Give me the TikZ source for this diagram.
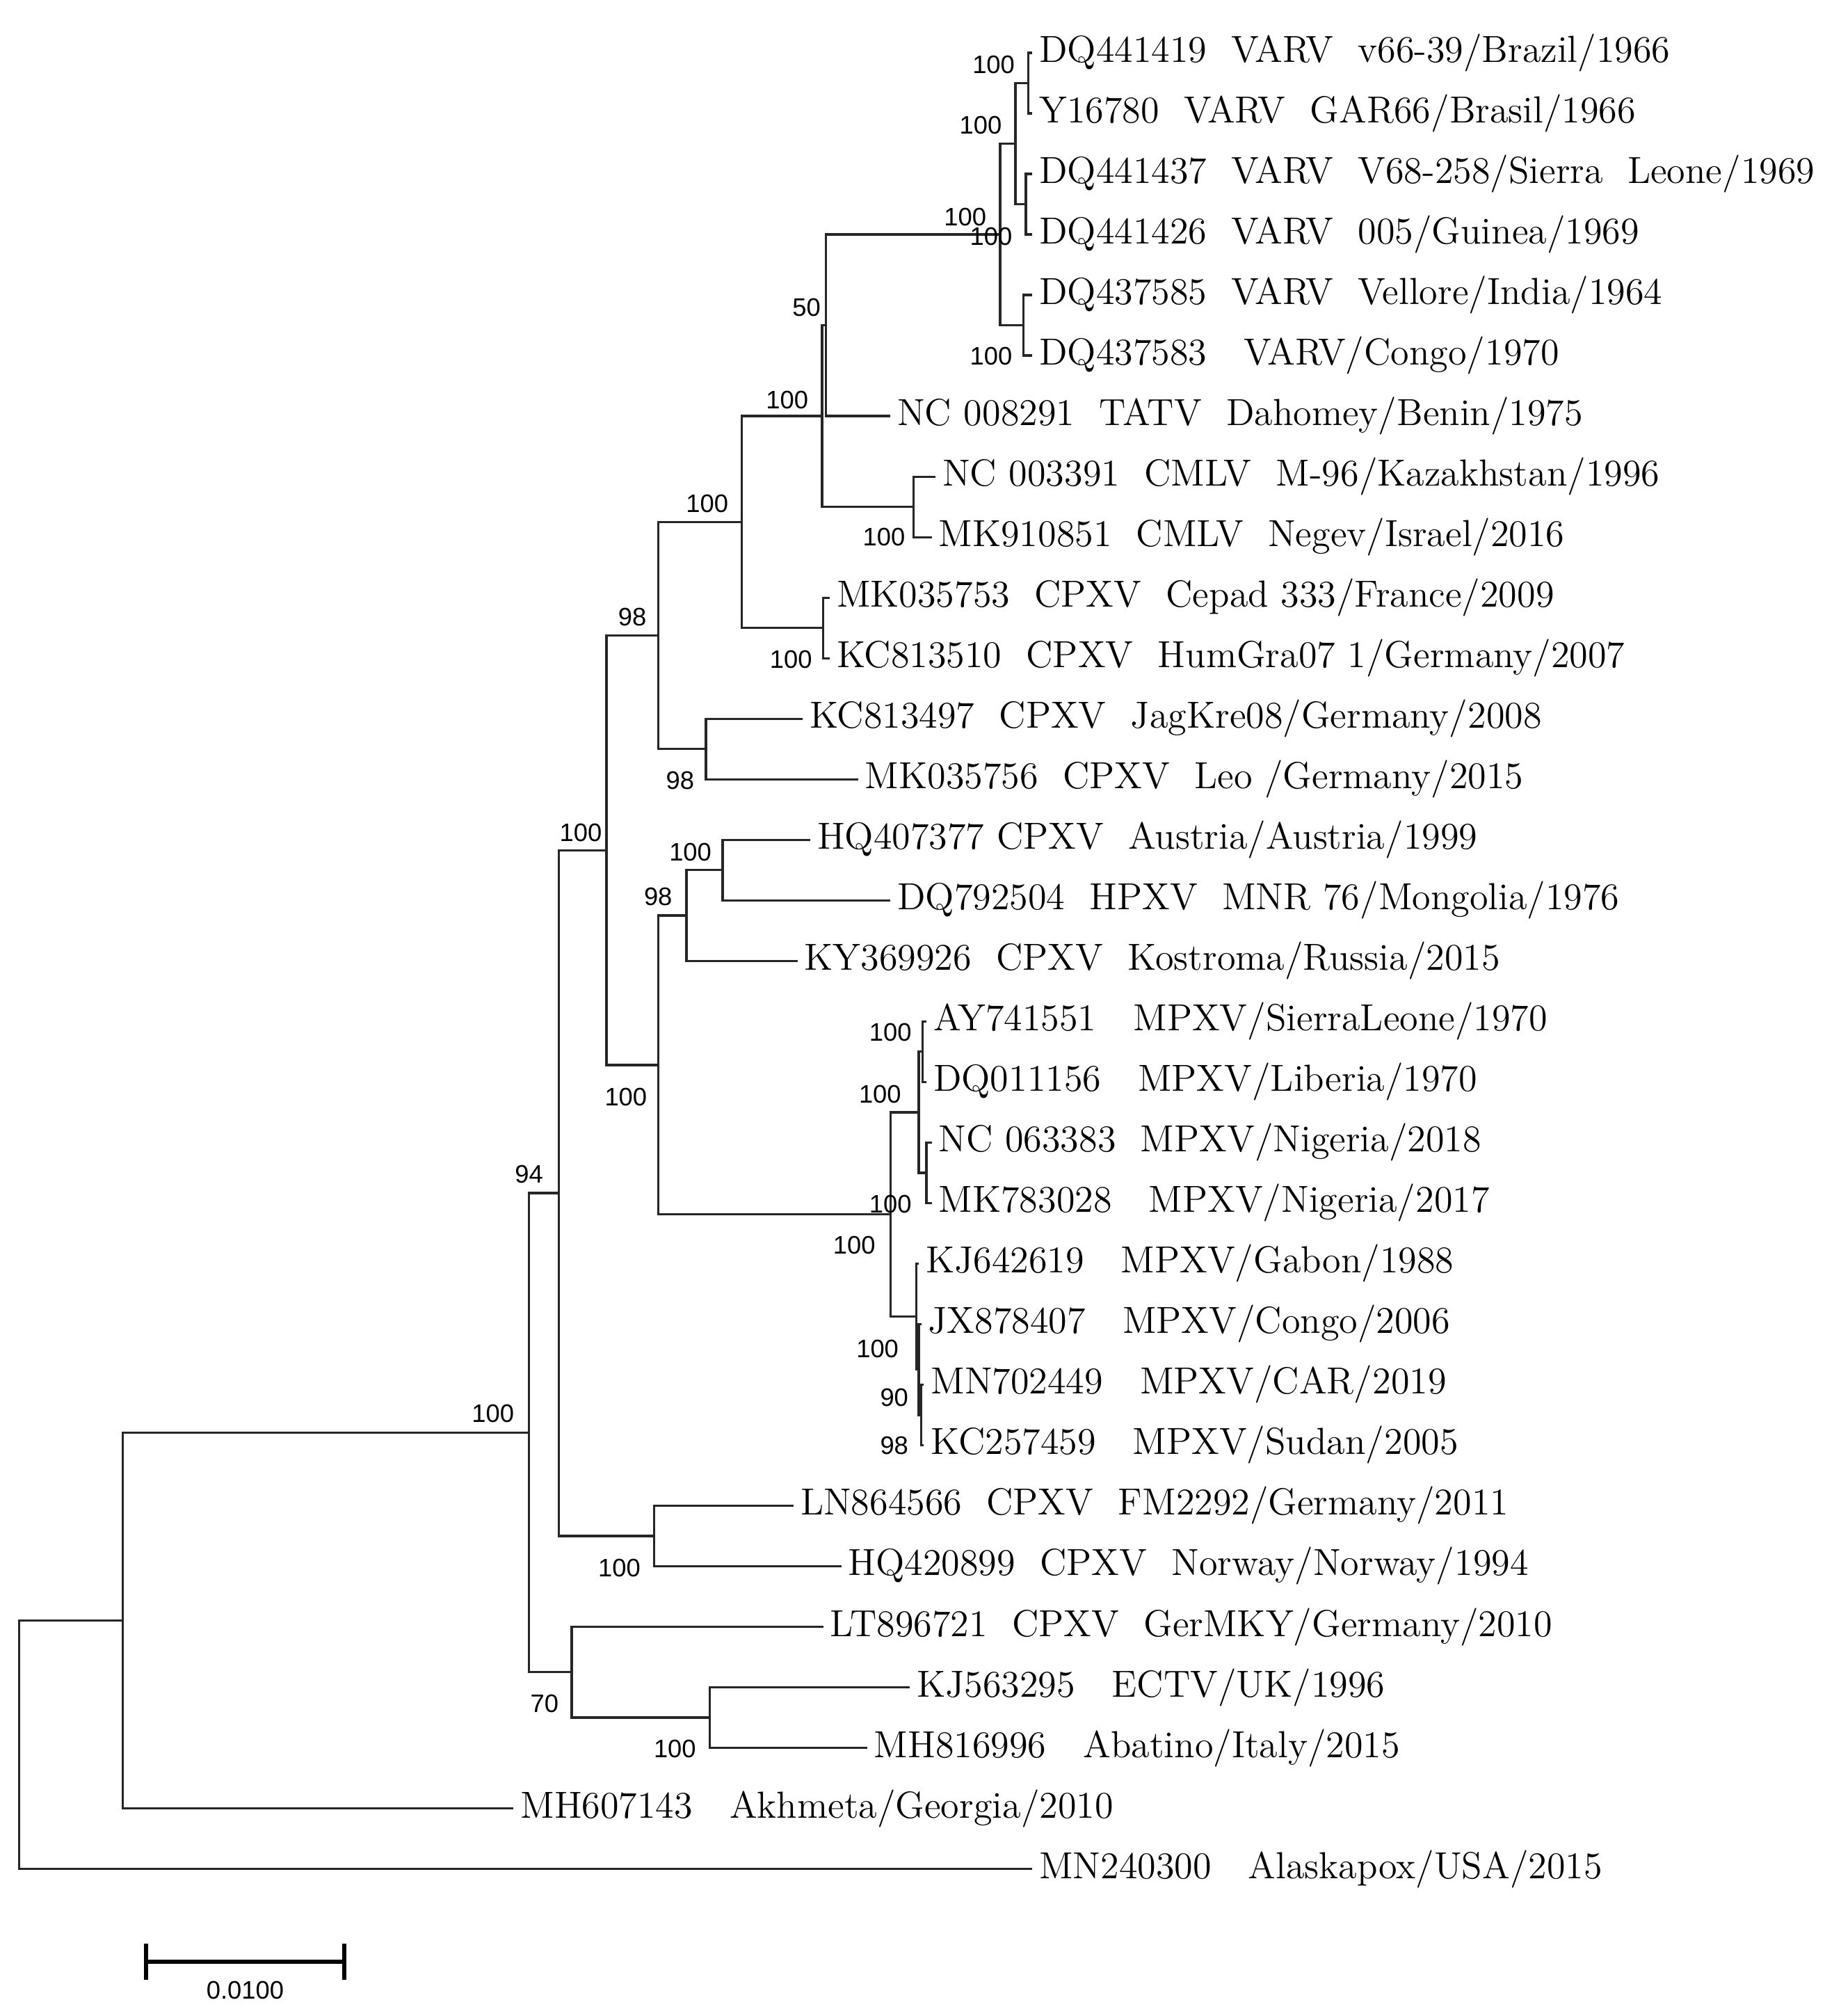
\documentclass[tikz,border=0pt]{standalone}
\usepackage{fontspec}
\newfontfamily\bsfont{Liberation Sans}
\begin{document}
\begin{tikzpicture}[x=0.5pt,y=-0.5pt,
  br/.style={line width=0.9pt,black!85},
  tiplab/.style={anchor=west,inner sep=2.5pt,font=\fontsize{14.6}{16}\selectfont},
  bs/.style={inner sep=0pt,font=\bsfont\fontsize{9.8}{11}\selectfont}]
\useasboundingbox (0,0) rectangle (1414,1562);
% tips
\foreach \i/\x/\t in {
1/800/{DQ441419\ \ VARV\ \ v66-39/Brazil/1966},
2/800/{Y16780\ \ VARV\ \ GAR66/Brasil/1966},
3/800/{DQ441437\ \ VARV\ \ V68-258/Sierra\ \ Leone/1969},
4/800/{DQ441426\ \ VARV\ \ 005/Guinea/1969},
5/800/{DQ437585\ \ VARV\ \ Vellore/India/1964},
6/800/{DQ437583\ \ \ VARV/Congo/1970},
7/690/{NC 008291\ \ TATV\ \ Dahomey/Benin/1975},
8/725/{NC 003391\ \ CMLV\ \ M-96/Kazakhstan/1996},
9/722/{MK910851\ \ CMLV\ \ Negev/Israel/2016},
10/643/{MK035753\ \ CPXV\ \ Cepad 333/France/2009},
11/643/{KC813510\ \ CPXV\ \ HumGra07 1/Germany/2007},
12/622/{KC813497\ \ CPXV\ \ JagKre08/Germany/2008},
13/665/{MK035756\ \ CPXV\ \ Leo /Germany/2015},
14/628/{HQ407377 CPXV\ \ Austria/Austria/1999},
15/690/{DQ792504\ \ HPXV\ \ MNR 76/Mongolia/1976},
16/618/{KY369926\ \ CPXV\ \ Kostroma/Russia/2015},
17/718/{AY741551\ \ \ MPXV/SierraLeone/1970},
18/718/{DQ011156\ \ \ MPXV/Liberia/1970},
19/722/{NC 063383\ \ MPXV/Nigeria/2018},
20/722/{MK783028\ \ \ MPXV/Nigeria/2017},
21/712/{KJ642619\ \ \ MPXV/Gabon/1988},
22/714/{JX878407\ \ \ MPXV/Congo/2006},
23/716/{MN702449\ \ \ MPXV/CAR/2019},
24/716/{KC257459\ \ \ MPXV/Sudan/2005},
25/615/{LN864566\ \ CPXV\ \ FM2292/Germany/2011},
26/652/{HQ420899\ \ CPXV\ \ Norway/Norway/1994},
27/638/{LT896721\ \ CPXV\ \ GerMKY/Germany/2010},
28/705/{KJ563295\ \ \ ECTV/UK/1996},
29/672/{MH816996\ \ \ Abatino/Italy/2015},
30/398/{MH607143\ \ \ Akhmeta/Georgia/2010},
31/800/{MN240300\ \ \ Alaskapox/USA/2015}} {
  \coordinate (t\i) at (\x,{41+(\i-1)*46.9});
  \node[tiplab] (l\i) at (t\i) {\t};
}
% internal nodes
\coordinate (U) at (797,64.45);
\coordinate (V) at (795,158.25);
\coordinate (S) at (787,111.35);
\coordinate (T) at (793,252.05);
\coordinate (R) at (775,181.7);
\coordinate (P) at (640,252.05);
\coordinate (Q) at (708,392.75);
\coordinate (N) at (637,322.4);
\coordinate (O) at (638,486.55);
\coordinate (J) at (575,404.475);
\coordinate (M) at (547,580.35);
\coordinate (H) at (510,492.41);
\coordinate (K1) at (560,674.15);
\coordinate (K) at (532,709.33);
\coordinate (W1) at (715,814.85);
\coordinate (W2) at (718,908.65);
\coordinate (W) at (712,861.75);
\coordinate (Z) at (714,1096.25);
\coordinate (Y) at (712,1061.08);
\coordinate (X) at (710,1020.04);
\coordinate (L) at (690,940.9);
\coordinate (I) at (510,825.1);
\coordinate (F) at (470,658.76);
\coordinate (G) at (507,1190.05);
\coordinate (C) at (433,924.4);
\coordinate (E) at (550,1330.75);
\coordinate (D) at (443,1295.6);
\coordinate (B) at (410,1110);
\coordinate (A) at (95,1255.55);
\coordinate (Rt) at (15,1351.8);
% branches
\foreach \p/\a/\b in {U/t1/t2, V/t3/t4, S/U/V, T/t5/t6, R/S/T, P/R/t7, Q/t8/t9,
  N/P/Q, O/t10/t11, J/N/O, M/t12/t13, H/J/M, K1/t14/t15, K/K1/t16,
  W1/t17/t18, W2/t19/t20, W/W1/W2, Z/t23/t24, Y/t22/Z, X/t21/Y, L/W/X,
  I/K/L, F/H/I, G/t25/t26, C/F/G, E/t28/t29, D/t27/E, B/C/D, A/B/t30, Rt/A/t31}
  \draw[br] (\a) -| (\p) |- (\b);
% bootstrap values
\foreach \n/\x/\y/\v in {U/770/50/100, S/760/97/100, R/748/168/100, V/768/183/100,
  T/768/276/100, P/625/238/50, N/610/310/100, Q/685/416/100, J/548/390/100,
  O/613/511/100, H/490/478/98, M/527/605/98, F/450/645/100, K1/535/660/100,
  K/510/695/98, I/485/850/100, W1/690/800/100, W/682/848/100, W2/690/933/100,
  L/662/965/100, X/680/1045/100, Y/693/1083/90, Z/693/1120/98, C/410/910/94,
  B/382/1095/100, G/480/1215/100, D/422/1320/70, E/523/1355/100}
  \node[bs] (b\n) at (\x,\y) {\v};
% scale bar
\coordinate (s1) at (113,1520);
\coordinate (s2) at (267,1520);
\draw[line width=1.6pt] (s1) -- (s2);
\draw[line width=1.6pt] ([yshift=-7]s1) -- ([yshift=7]s1);
\draw[line width=1.6pt] ([yshift=-7]s2) -- ([yshift=7]s2);
\node[bs] (sbl) at (190,1542) {0.0100};
\end{tikzpicture}
\end{document}
